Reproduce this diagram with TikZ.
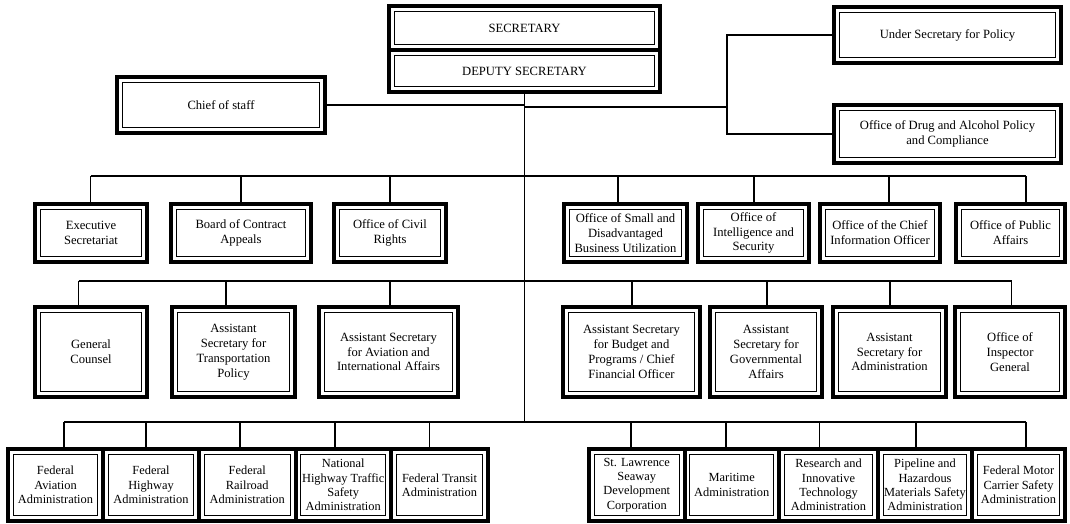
\documentclass[tikz,border=0pt]{standalone}
\usepackage{fontspec}
\setmainfont{Liberation Serif}
\newcommand{\orgbox}[7][]{\node[obox, minimum width={#5-#3}, minimum height={#6-#4}, #1] (#2) at ({(#3+#5)/2},{(#4+#6)/2}) {#7};}
\begin{document}
\begin{tikzpicture}[x=1pt,y=-1pt,
  obox/.style={draw, line width=4pt, inner sep=0pt, align=center,
    font=\fontsize{12.6}{14.8}\selectfont,
    path picture={\draw[line width=1.2pt]
      ([shift={(5.2pt,5.2pt)}]path picture bounding box.south west) rectangle
      ([shift={(-5.2pt,-5.2pt)}]path picture bounding box.north east);}},
  lowbox/.style={font=\fontsize{12.4}{14.3}\selectfont},
  link/.style={line width=1.2pt}]
\useasboundingbox (0,0) rectangle (1070,523);

% top
\orgbox{sec}{389}{6}{660}{50}{SECRETARY}
\orgbox{dep}{389}{50}{660}{92}{DEPUTY SECRETARY}
\orgbox{chief}{117}{77}{325}{133}{Chief of staff}
\orgbox{under}{834}{7}{1061}{63}{Under Secretary for Policy}
\orgbox{drug}{834}{105}{1061}{163}{Office of Drug and Alcohol Policy\\and Compliance}

% row 1
\orgbox{exec}{35}{204}{147}{262}{Executive\\Secretariat}
\orgbox{board}{171}{204}{311}{262}{Board of Contract\\Appeals}
\orgbox{civil}{334}{204}{446}{262}{Office of Civil\\Rights}
\orgbox{small}{564}{204}{687}{262}{Office of Small and\\Disadvantaged\\Business Utilization}
\orgbox{intel}{698}{204}{809}{262}{Office of\\Intelligence and\\Security}
\orgbox{cio}{820}{204}{940}{262}{Office of the Chief\\Information Officer}
\orgbox{public}{956}{204}{1065}{262}{Office of Public\\Affairs}

% row 2
\orgbox{gc}{35}{307}{147}{397}{General\\Counsel}
\orgbox{atp}{172}{307}{295}{397}{Assistant\\Secretary for\\Transportation\\Policy}
\orgbox{aia}{319}{307}{458}{397}{Assistant Secretary\\for Aviation and\\International Affairs}
\orgbox{budget}{563}{307}{700}{397}{Assistant Secretary\\for Budget and\\Programs / Chief\\Financial Officer}
\orgbox{gov}{710}{307}{822}{397}{Assistant\\Secretary for\\Governmental\\Affairs}
\orgbox{admin}{833}{307}{946}{397}{Assistant\\Secretary for\\Administration}
\orgbox{ig}{955}{307}{1065}{397}{Office of\\Inspector\\General}

% row 3
\orgbox[lowbox]{faa}{8}{449}{103}{521}{Federal\\Aviation\\Administration}
\orgbox[lowbox]{fhwa}{103}{449}{199}{521}{Federal\\Highway\\Administration}
\orgbox[lowbox]{fra}{199}{449}{295.5}{521}{Federal\\Railroad\\Administration}
\orgbox[lowbox]{nhtsa}{295.5}{449}{391}{521}{National\\Highway Traffic\\Safety\\Administration}
\orgbox[lowbox]{fta}{391}{449}{488}{521}{Federal Transit\\Administration}
\orgbox[lowbox]{slsdc}{589}{449}{684.5}{521}{St. Lawrence\\Seaway\\Development\\Corporation}
\orgbox[lowbox]{marad}{684.5}{449}{779}{521}{Maritime\\Administration}
\orgbox[lowbox]{rita}{779}{449}{878}{521}{Research and\\Innovative\\Technology\\Administration}
\orgbox[lowbox]{phmsa}{878}{449}{972}{521}{Pipeline and\\Hazardous\\Materials Safety\\Administration}
\orgbox[lowbox]{fmcsa}{972}{449}{1065}{521}{Federal Motor\\Carrier Safety\\Administration}

% spine
\coordinate (spineEnd) at (524,422);
\draw[link] (dep.south) -- (dep.south |- spineEnd);
\draw[link] (chief.east) -- (chief.east -| dep.south);

% under secretary bracket
\coordinate (bx) at (727,107);
\draw[link] (bx -| dep.south) -- (bx);
\draw[link] (under.west) -| (bx) |- (drug.west);

% row 1 bus
\coordinate (r1L) at (90.6,176);
\coordinate (r1R) at (1026,176);
\draw[link] (r1L) -- (r1R);
\foreach \x/\n in {90.6/exec,241/board,390/civil,618/small,754/intel,889/cio,1026/public}
  \draw[link] (\x,176) -- (\n.north -| \x,0);

% row 2 bus
\coordinate (r2L) at (78.5,281);
\coordinate (r2R) at (1011.5,281);
\draw[link] (r2L) -- (r2R);
\foreach \x/\n in {78.5/gc,226/atp,390/aia,632/budget,767/gov,890/admin,1011.5/ig}
  \draw[link] (\x,281) -- (\n.north -| \x,0);

% row 3 bus
\coordinate (r3L) at (64,422);
\coordinate (r3R) at (1026,422);
\draw[link] (r3L) -- (r3R);
\foreach \x/\n in {64/faa,146/fhwa,240/fra,335/nhtsa,429.5/fta,631/slsdc,726/marad,819.5/rita,916/phmsa,1026/fmcsa}
  \draw[link] (\x,422) -- (\n.north -| \x,0);
\end{tikzpicture}
\end{document}
